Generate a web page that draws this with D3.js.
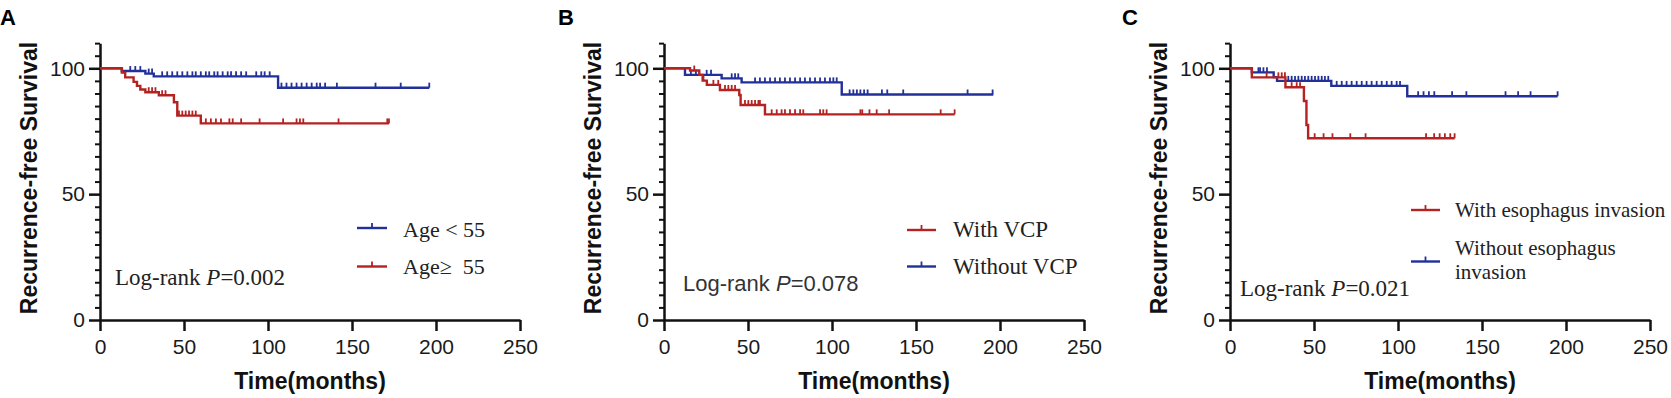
<!DOCTYPE html>
<html>
<head>
<meta charset="utf-8">
<script src="https://cdn.jsdelivr.net/npm/d3@7"></script>
<style>
  body { margin: 0; background: #fff; }
</style>
</head>
<body>
<div id="chart"></div>
<script>
// axis ticks
const timeTicks = [0, 50, 100, 150, 200, 250];
const survTicks = [0, 50, 100];
const survMinorTicks = [5, 10, 15, 20, 25, 30, 35, 40, 45, 55, 60, 65, 70, 75, 80, 85, 90, 95, 105, 110];

// panel A: age
const youngTimes = [13, 27, 32, 106];
const youngSurv = [98.9, 97.9, 96.8, 92.3];
const youngCensor = [18, 21, 24, 29, 31, 37, 40, 43, 46, 49, 52, 55, 57, 60, 63, 65, 68, 70, 73, 76, 78, 81, 84, 87, 93, 96, 98, 101,
  108, 111, 114, 117, 120, 123, 126, 129, 131, 134, 141, 164, 179, 196];
const youngEnd = 196;

const oldTimes = [13, 15, 20, 22, 24, 27, 35, 44, 46, 60];
const oldSurv = [98.3, 96.4, 94.6, 93.0, 91.6, 90.5, 89.3, 86.5, 81.2, 78.1];
const oldCensor = [29, 31, 33, 37, 39, 47, 49, 51, 53, 55, 57, 63, 66, 69, 72, 77, 79, 84, 95, 109, 117, 119, 121, 142, 171, 172];
const oldEnd = 172;

// panel B: VCP
const vcpTimes = [15.5, 21, 23, 25.5, 33.3, 44.8, 45.6, 60.1];
const vcpSurv = [99.1, 97.4, 95.1, 93.4, 91.4, 89.4, 85.4, 81.7];
const vcpCensor = [18, 23.5, 29.4, 32.3, 36.3, 38.3, 40.3, 42.3, 48.2, 50.2, 52.2, 54.2, 56.2, 57.1, 64.1, 67.1, 70, 72, 75, 78, 81, 82.9,
  92.9, 94.8, 96.8, 116.9, 118, 122.3, 126.6, 134, 164.7, 173];
const vcpEnd = 173;

const noVcpTimes = [12.5, 34.3, 46.2, 105.8];
const noVcpSurv = [97.4, 96.0, 94.4, 89.6];
const noVcpCensor = [16, 19, 25.4, 28, 40.3, 42.3, 44.2, 54.2, 57.1, 60.1, 63.1, 66.1, 69, 72, 75, 78, 81, 83.9, 86.9, 89.9, 92.9, 95.8,
  98.8, 100.8, 102.8, 110.5, 112.7, 114.8, 116.9, 119.1, 121.2, 129.7, 132.9, 142.4, 180.7, 195.6];
const noVcpEnd = 196;

// panel C: esophagus invasion
const invTimes = [13, 33, 44, 45.5, 46.5];
const invSurv = [96.4, 92.5, 87.0, 77.5, 72.2];
const invCensor = [21.8, 28.8, 30.8, 32.7, 36.7, 39.7, 41.7, 50.4, 55.7, 61, 71.6, 80.7, 116.7, 121.5, 124.8, 127.9, 131.1, 133.7];
const invEnd = 133.7;

const noInvTimes = [13, 26, 28, 60.3, 105.5];
const noInvSurv = [98.4, 96.5, 95.0, 93.0, 88.9];
const noInvCensor = [16.9, 17.9, 19.9, 22, 34.7, 36.7, 38.7, 40.7, 42.7, 44.6, 46.6, 48.6, 50.6, 52.6, 54.6, 56.5, 58.5, 63.5, 66.5,
  69.4, 72.4, 75.4, 78.4, 81.3, 84.3, 87.3, 90.3, 93.3, 96.2, 99.2, 101.2, 112, 115.2, 118.4, 121.6, 132.2, 140.7, 164, 171.5, 178.9, 195];
const noInvEnd = 195;

const panelLetters = ["A", "B", "C"];
const pValues = ["0.002", "0.078", "0.021"];

const BLUE = "#22309a";
const RED = "#b42222";
const INK = "#111";

const svg = d3.select("#chart").append("svg")
  .attr("width", 1671)
  .attr("height", 398);

// layout of each panel; legend pieces are offsets from the y axis
const panels = [
  {
    left: 100,
    groups: [
      { times: youngTimes, surv: youngSurv, censor: youngCensor, end: youngEnd, color: BLUE },
      { times: oldTimes, surv: oldSurv, censor: oldCensor, end: oldEnd, color: RED }
    ],
    legend: [
      { lines: ["Age < 55"], color: BLUE, lineY: 228, textY: [237] },
      { lines: ["Age\u2265  55"], color: RED, lineY: 266.5, textY: [274] }
    ],
    legendLine: [257, 287], legendText: 303, legendFont: "22px",
    pval: { x: 15, y: 285, font: "'Liberation Serif', 'Times New Roman', serif" },
    letterX: 0
  },
  {
    left: 664,
    groups: [
      { times: noVcpTimes, surv: noVcpSurv, censor: noVcpCensor, end: noVcpEnd, color: BLUE },
      { times: vcpTimes, surv: vcpSurv, censor: vcpCensor, end: vcpEnd, color: RED }
    ],
    legend: [
      { lines: ["With VCP"], color: RED, lineY: 230, textY: [237] },
      { lines: ["Without VCP"], color: BLUE, lineY: 266.5, textY: [274] }
    ],
    legendLine: [243, 272], legendText: 289, legendFont: "23px",
    pval: { x: 19, y: 291, font: "'Liberation Sans', Arial, sans-serif", sans: true },
    letterX: 558
  },
  {
    left: 1230,
    groups: [
      { times: noInvTimes, surv: noInvSurv, censor: noInvCensor, end: noInvEnd, color: BLUE },
      { times: invTimes, surv: invSurv, censor: invCensor, end: invEnd, color: RED }
    ],
    legend: [
      { lines: ["With esophagus invasion"], color: RED, lineY: 210, textY: [217] },
      { lines: ["Without esophagus", "invasion"], color: BLUE, lineY: 261.5, textY: [255, 279] }
    ],
    legendLine: [181, 210], legendText: 225, legendFont: "21px",
    pval: { x: 10, y: 296, font: "'Liberation Serif', 'Times New Roman', serif" },
    letterX: 1122
  }
];

const plotWidth = 420;
const y = d3.scaleLinear().domain([0, 110]).range([320, 320 - 110 * 2.517]);

panels.forEach((p, i) => {
  const x = d3.scaleLinear().domain([0, 250]).range([p.left, p.left + plotWidth]);

  // panel letter
  svg.append("text")
    .attr("x", p.letterX)
    .attr("y", 25)
    .attr("font-family", "'Liberation Sans', Arial, sans-serif")
    .attr("font-weight", "bold")
    .attr("font-size", "22px")
    .attr("fill", "#000")
    .text(panelLetters[i]);

  // axes
  const xAxis = svg.append("g")
    .attr("transform", `translate(0,${y(0)})`)
    .call(d3.axisBottom(x).tickValues(timeTicks).tickSize(11).tickSizeOuter(0).tickPadding(8));

  const yMinor = svg.append("g")
    .attr("transform", `translate(${p.left},0)`)
    .call(d3.axisLeft(y).tickValues(survMinorTicks).tickSize(5).tickFormat(""));
  yMinor.select(".domain").remove();

  const yAxis = svg.append("g")
    .attr("transform", `translate(${p.left},0)`)
    .call(d3.axisLeft(y).tickValues(survTicks).tickSize(11).tickSizeOuter(0).tickPadding(4));

  [xAxis, yAxis, yMinor].forEach(g => {
    g.selectAll("path, line").attr("stroke", INK).attr("stroke-width", 2.5);
    g.selectAll("text")
      .attr("font-family", "'Liberation Sans', Arial, sans-serif")
      .attr("font-size", "21px")
      .attr("fill", "#1a1a1a");
  });
  yMinor.selectAll("line").attr("stroke-width", 2);

  // axis titles
  svg.append("text")
    .attr("x", p.left + plotWidth / 2)
    .attr("y", 389)
    .attr("text-anchor", "middle")
    .attr("font-family", "'Liberation Sans', Arial, sans-serif")
    .attr("font-weight", "bold")
    .attr("font-size", "23px")
    .attr("fill", "#111")
    .text("Time(months)");

  svg.append("text")
    .attr("transform", `translate(${p.left - 63},178) rotate(-90)`)
    .attr("text-anchor", "middle")
    .attr("font-family", "'Liberation Sans', Arial, sans-serif")
    .attr("font-weight", "bold")
    .attr("font-size", "23px")
    .attr("fill", "#111")
    .text("Recurrence-free Survival");

  // survival curves
  const line = d3.line()
    .x(d => x(d[0]))
    .y(d => y(d[1]))
    .curve(d3.curveStepAfter);

  p.groups.forEach(g => {
    const pts = [[0, 100]].concat(g.times.map((t, k) => [t, g.surv[k]]));
    pts.push([g.end, g.surv[g.surv.length - 1]]);

    svg.append("path")
      .datum(pts)
      .attr("fill", "none")
      .attr("stroke", g.color)
      .attr("stroke-width", 2.4)
      .attr("d", line);

    // censor marks sit on the step level at that time
    const level = t => {
      const k = d3.bisectRight(g.times, t);
      return k === 0 ? 100 : g.surv[k - 1];
    };
    svg.append("g").selectAll("line")
      .data(g.censor)
      .join("line")
      .attr("x1", d => x(d))
      .attr("x2", d => x(d))
      .attr("y1", d => y(level(d)))
      .attr("y2", d => y(level(d)) - 5)
      .attr("stroke", g.color)
      .attr("stroke-width", 1.8);
  });

  // legend
  p.legend.forEach(item => {
    svg.append("line")
      .attr("x1", p.left + p.legendLine[0])
      .attr("x2", p.left + p.legendLine[1])
      .attr("y1", item.lineY)
      .attr("y2", item.lineY)
      .attr("stroke", item.color)
      .attr("stroke-width", 2.4);
    const mid = p.left + (p.legendLine[0] + p.legendLine[1]) / 2;
    svg.append("line")
      .attr("x1", mid).attr("x2", mid)
      .attr("y1", item.lineY).attr("y2", item.lineY - 5)
      .attr("stroke", item.color)
      .attr("stroke-width", 1.8);
    item.lines.forEach((txt, k) => {
      svg.append("text")
        .attr("x", p.left + p.legendText)
        .attr("y", item.textY[k])
        .attr("font-family", "'Liberation Serif', 'Times New Roman', serif")
        .attr("font-size", p.legendFont)
        .attr("fill", "#222")
        .style("white-space", "pre")
        .text(txt);
    });
  });

  // log-rank p value
  const pt = svg.append("text")
    .attr("x", p.left + p.pval.x)
    .attr("y", p.pval.y)
    .attr("font-family", p.pval.font)
    .attr("font-size", p.pval.sans ? "22px" : "23px")
    .attr("fill", p.pval.sans ? "#333" : "#222")
    .style("white-space", "pre");
  pt.append("tspan").text("Log-rank ");
  pt.append("tspan").attr("font-style", "italic").text("P");
  pt.append("tspan").text("=" + pValues[i]);
});
</script>
</body>
</html>
